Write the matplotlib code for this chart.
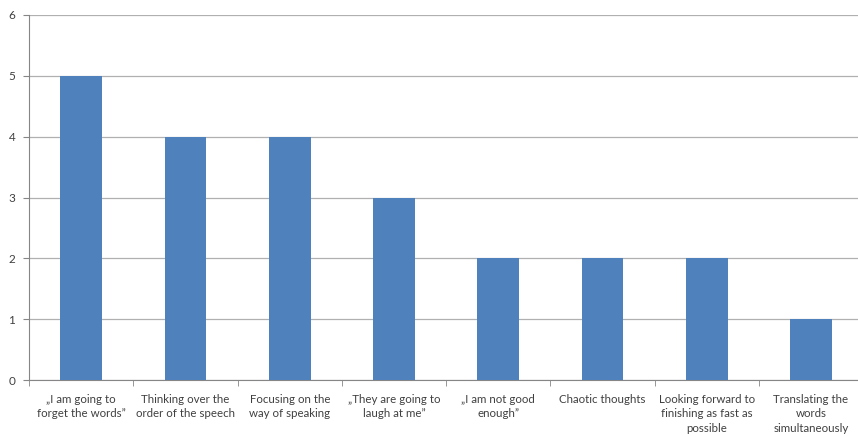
import numpy as np
import matplotlib.pyplot as plt

plt.rcParams['font.family'] = ['Lato', 'DejaVu Sans']

labels = ['\u201eI am going to\nforget the words\u201d',
          'Thinking over the\norder of the speech',
          'Focusing on the\nway of speaking',
          '\u201eThey are going to\nlaugh at me\u201d',
          '\u201eI am not good\nenough\u201d',
          'Chaotic thoughts',
          'Looking forward to\nfinishing as fast as\npossible',
          'Translating the\nwords\nsimultaneously']
counts = [5, 4, 4, 3, 2, 2, 2, 1]

fig = plt.figure(figsize=(8.58, 4.37), dpi=100)
ax = fig.add_axes([0.034, 0.130, 0.972, 0.836])

x = np.arange(len(labels))
ax.bar(x, counts, width=0.4, color='#4F81BD', zorder=3)

ax.set_xlim(-0.5, len(labels) - 0.5)
ax.set_ylim(0, 6)
ax.set_yticks(range(0, 7))
ax.grid(axis='y', color='#B0B0B0', linewidth=0.9, zorder=0)

ax.set_xticks(x)
ax.set_xticklabels(labels, fontsize=8.3, color='#404040', linespacing=1.38)
ax.tick_params(axis='x', length=0, pad=10)
ax.set_xticks(np.arange(-0.5, len(labels), 1), minor=True)
ax.tick_params(axis='x', which='minor', length=4, color='#868686')
ax.tick_params(axis='y', length=4, color='#868686', labelsize=8.5, labelcolor='#404040', pad=6)

for s in ['top', 'right']:
    ax.spines[s].set_visible(False)
ax.spines['left'].set_color('#868686')
ax.spines['bottom'].set_color('#868686')

fig.savefig('out.png', dpi=100)
